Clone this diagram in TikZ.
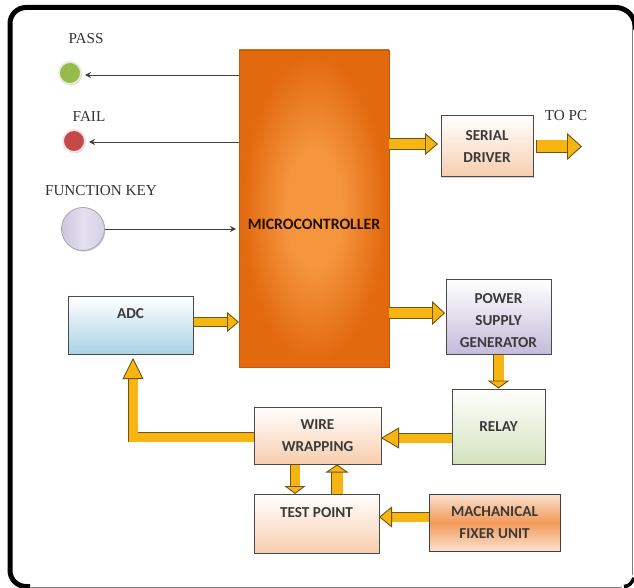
\documentclass[tikz,border=0pt]{standalone}
\usepackage{fontspec}
\setmainfont{Liberation Serif}
\setsansfont{Carlito}
\usepackage{xcolor}
\usetikzlibrary{arrows.meta,calc,shadows}
\definecolor{gold}{HTML}{F7B511}
\definecolor{goldedge}{HTML}{6E5410}
\definecolor{boxedge}{HTML}{4A4A4A}
\definecolor{darkorange}{HTML}{E2690E}
\definecolor{lightorange}{HTML}{F5963F}
\definecolor{peach}{HTML}{F8CDAE}
\definecolor{skyblue}{HTML}{A9D2E4}
\definecolor{lilac}{HTML}{C3BBDB}
\definecolor{palegreen}{HTML}{D2E2BC}
\definecolor{midorange}{HTML}{F29A5A}
\definecolor{boxtext}{HTML}{3A3A3A}
\definecolor{passgreen}{HTML}{93BC4B}
\definecolor{failred}{HTML}{C5494A}
\pgfdeclareradialshading{microglow}{\pgfpoint{0bp}{0bp}}{color(0bp)=(lightorange); color(9bp)=(lightorange); color(24bp)=(darkorange); color(50bp)=(darkorange)}
\tikzset{
  box/.style={draw=boxedge,line width=1pt,align=center,inner sep=0pt,
    font=\fontsize{15.2}{22}\sffamily\bfseries,text=boxtext,
    drop shadow={shadow xshift=.6pt,shadow yshift=-1.4pt,opacity=.35}},
  size/.style n args={2}{minimum width=#1pt,minimum height=#2pt},
  blockarrow/.style n args={3}{draw=goldedge,line width=.9pt,double=gold,double distance=#1pt,
    line join=miter,-{Triangle[length=#3pt,width=#2pt,fill=gold,line width=.9pt]}},
  thinarrow/.style={draw=black!75,line width=.9pt,-{Stealth[length=6pt,width=6pt]}},
  lamp/.style={circle,inner sep=0pt,minimum size=#1pt,
    drop shadow={shadow xshift=.8pt,shadow yshift=-1.2pt,opacity=.35}},
  toplabel/.style={font=\fontsize{15.2}{17}\selectfont,text=black!80,inner sep=0pt},
}
\begin{document}
\begin{tikzpicture}[x=1pt,y=-1pt]
  \useasboundingbox (0,0) rectangle (634,588);
  \fill[white] (0,0) rectangle (634,588);
  % frame
  \draw[gray,line width=1pt] (25,587) -- (622,587);
  \draw[gray,line width=1pt] (632.8,20) -- (632.8,575);
  \draw[black,line width=5pt,rounded corners=16pt] (30,586.5) -- (10,586.5) -- (10,7.5) -- (632,7.5) -- (636,30);
  \draw[black,line width=3.5pt] (624,586.5) to[out=0,in=-115] (634,578);

  % main block
  \node[draw=darkorange!85!black,line width=.6pt,inner sep=0pt,shading=microglow,size={150}{317}] (micro) at (314,208.5) {};
  \node[font=\fontsize{15.8}{18}\sffamily\bfseries,text=black!85!darkorange,inner sep=0pt] (microtext) at (314,224) {MICROCONTROLLER};

  % blocks
  \node[box,size={92}{61},top color=white,bottom color=peach] (serial) at (487,146.5) {SERIAL\\DRIVER};
  \node[box,size={105}{75},top color=white,bottom color=lilac] (power) at (498.5,316.5) {\\[-3pt]POWER\\SUPPLY\\GENERATOR};
  \node[box,size={93}{75},top color=white,bottom color=palegreen] (relay) at (498.5,426.5) {RELAY};
  \node[box,size={127}{57},top color=white,bottom color=peach] (wire) at (317.5,435.5) {WIRE\\WRAPPING};
  \node[box,size={125}{59},top color=white,bottom color=peach] (test) at (316.5,523.5) {TEST POINT\\\mbox{}};
  \node[box,size={131}{57},top color=peach!60,bottom color=peach!60,middle color=midorange,draw=black!75] (mech) at (494.5,522.5) {MACHANICAL\\FIXER UNIT};
  \node[box,size={125}{58},top color=white,bottom color=skyblue] (adc) at (130.5,325) {ADC\\\mbox{}};

  % lamps and key
  \node[lamp=22,draw=passgreen!25!white,line width=1.8pt,fill=passgreen] (pass) at (70,73) {};
  \node[lamp=22,draw=failred!15!white,line width=1.8pt,fill=failred] (fail) at (74,141) {};
  \node[lamp=43,draw=gray!70,line width=.8pt,left color=lilac!85,right color=lilac!70,middle color=lilac!45] (fkey) at (83,229) {};

  % texts
  \node[toplabel] (passtext) at (86,39) {PASS};
  \node[toplabel] (failtext) at (89,116) {FAIL};
  \node[toplabel] (fkeytext) at (101,191) {FUNCTION KEY};
  \node[toplabel] (pctext) at (566,116) {TO PC};

  % free ends
  \coordinate (pcstart) at (536,146.5);
  \coordinate (pcend) at (582,146.5);
  \coordinate (serialin) at (438,144);
  \coordinate (powerin) at (445,313);
  \coordinate (microin) at (239,322);
  \coordinate (adcin) at (133,358);
  \coordinate (wirein) at (381,438);
  \coordinate (testin) at (379,517);
  \coordinate (wiretap) at (254,437);
  \coordinate (updown) at (337,494);
  \coordinate (downup) at (295,494);
  \coordinate (passin) at (85,75);
  \coordinate (failin) at (89,142);
  \coordinate (keyin) at (236,229);

  % thin connectors
  \draw[thinarrow] (micro.west |- passin) -- (passin);
  \draw[thinarrow] (micro.west |- failin) -- (failin);
  \draw[thinarrow] (fkey.east) -- (keyin);

  % block connectors
  \draw[blockarrow={10}{22}{13}] (micro.east |- serialin) -- (serialin);
  \draw[blockarrow={12}{27}{15},arrows={Bar[width=13.8pt,line width=.9pt]-Triangle[length=15pt,width=27pt,fill=gold,line width=.9pt]}] (pcstart) -- (pcend);
  \draw[blockarrow={10}{24}{13}] (micro.east |- powerin) -- (powerin);
  \draw[blockarrow={10}{22}{8}] (power.south -| relay.north) -- (relay.north);
  \draw[blockarrow={9}{21}{18}] (relay.west |- wirein) -- (wirein);
  \draw[blockarrow={9}{21}{13}] (mech.west |- testin) -- (testin);
  \draw[blockarrow={11}{23}{8}] (updown) -- (updown |- wire.south);
  \draw[blockarrow={9}{21}{8}] (downup |- wire.south) -- (downup);
  \draw[blockarrow={8}{20}{12}] (adc.east |- microin) -- (microin);
  \draw[blockarrow={9}{21}{21}] (wiretap) -- (wiretap -| adcin) -- (adcin);
\end{tikzpicture}
\end{document}
